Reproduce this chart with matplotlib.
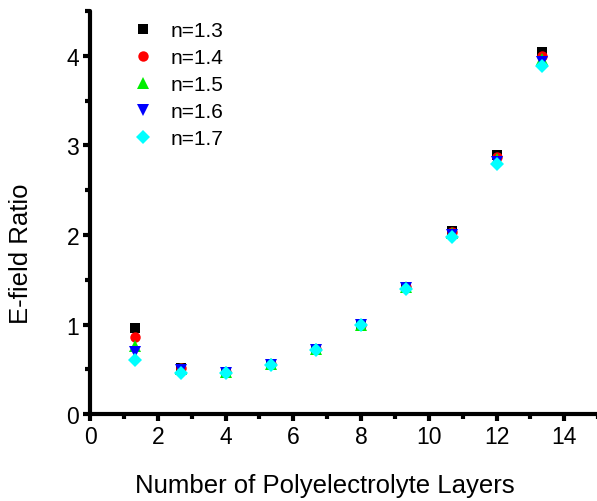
import matplotlib
matplotlib.use('Agg')
import matplotlib.pyplot as plt
from matplotlib.ticker import MultipleLocator

plt.rcParams['font.family'] = ['Liberation Sans', 'DejaVu Sans']

# layer counts
layers = [1.33, 2.67, 4.0, 5.33, 6.67, 8.0, 9.33, 10.67, 12.0, 13.33]

# E-field ratio for each refractive index
ratio_13 = [0.96, 0.52, 0.47, 0.56, 0.73, 1.00, 1.42, 2.05, 2.89, 4.04]
ratio_14 = [0.86, 0.51, 0.47, 0.56, 0.73, 1.00, 1.42, 2.03, 2.87, 4.00]
ratio_15 = [0.76, 0.50, 0.47, 0.56, 0.73, 1.00, 1.42, 2.02, 2.85, 3.97]
ratio_16 = [0.69, 0.49, 0.46, 0.55, 0.72, 0.99, 1.41, 2.00, 2.82, 3.93]
ratio_17 = [0.60, 0.46, 0.46, 0.55, 0.72, 0.99, 1.40, 1.98, 2.79, 3.89]

series = [
    ('n=1.3', ratio_13, 's', 'black'),
    ('n=1.4', ratio_14, 'o', 'red'),
    ('n=1.5', ratio_15, '^', '#00ee00'),
    ('n=1.6', ratio_16, 'v', 'blue'),
    ('n=1.7', ratio_17, 'D', 'cyan'),
]

fig = plt.figure(figsize=(5.97, 5.02), dpi=100)
ax = fig.add_axes([0.151, 0.173, 0.851, 0.803])

for label, vals, mk, col in series:
    ms = 8.5 if mk in ('^', 'v') else 7.5
    ax.plot(layers, vals, linestyle='none', marker=mk, color=col,
            markersize=ms, markeredgewidth=0, label=label)

ax.set_xlim(0, 15)
ax.set_ylim(0, 4.5)
ax.set_xticks([0, 2, 4, 6, 8, 10, 12, 14])
ax.set_yticks([0, 1, 2, 3, 4])
ax.xaxis.set_minor_locator(MultipleLocator(1))
ax.yaxis.set_minor_locator(MultipleLocator(0.5))

for s in ['top', 'right']:
    ax.spines[s].set_visible(False)
for s in ['left', 'bottom']:
    ax.spines[s].set_linewidth(3)
    ax.spines[s].set_capstyle('round')

ax.tick_params(which='major', direction='out', length=5, width=3,
               labelsize=16.5, pad=3)
ax.tick_params(which='minor', direction='out', length=3.5, width=3)

ax.set_xlabel('Number of Polyelectrolyte Layers', fontsize=18.5)
ax.xaxis.set_label_coords(0.461, -0.145)
ax.set_ylabel('E-field Ratio', fontsize=18.5)
ax.yaxis.set_label_coords(-0.112, 0.40)

ax.legend(loc='upper left', bbox_to_anchor=(0.055, 1.012), frameon=False,
          fontsize=15, handletextpad=0.8, labelspacing=0.39,
          handlelength=1.0, borderaxespad=0.3)

fig.savefig('out.png', dpi=100)
